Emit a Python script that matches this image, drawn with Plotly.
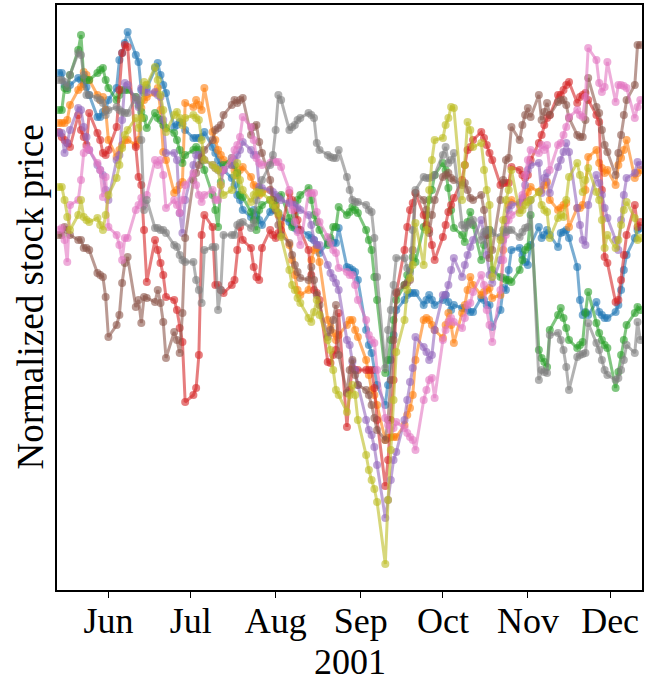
import pandas as pd
import plotly.graph_objects as go

# Trading days (weekdays) covered by the chart
dates = pd.bdate_range("2001-05-14", "2001-12-12")

# Normalized closing prices, one list per stock (weekly blocks of 5 values)
blue = [527, 527, 515, 512, 515, 522, 520, 516, 513, 505, 483, 483, 488, 490, 500,
        512, 540, 547, 557, 568, 545, 538, 510, 507, 512, 532, 537, 525, 515, 507,
        473, 475, 478, 477, 470, 462, 462, 462, 463, 468, 453, 447, 440, 435, 430,
        422, 415, 405, 400, 390, 383, 390, 385, 380, 375, 388, 390, 395, 387, 382,
        378, 375, 372, 370, 370, 365, 362, 360, 355, 347, 357, 360, 357, 357, 372,
        333, 332, 330, 328, 320, 270, 255, 247, 230, 215, 195, 215, 240, 265, 290,
        300, 305, 307, 307, 307, 295, 300, 305, 300, 295, 300, 305, 298, 290, 295,
        292, 292, 290, 288, 288, 302, 300, 295, 295, 273, 290, 312, 310, 330, 350,
        352, 345, 338, 335, 355, 373, 362, 365, 370, 365, 353, 367, 368, 370, 362,
        333, 300, 285, 288, 285, 298, 288, 285, 282, 282, 288, 295, 310, 330, 345,
        362, 370, 372]
orange = [477, 477, 477, 480, 495, 510, 513, 528, 525, 520, 505, 500, 503, 490, 460,
          443, 450, 455, 460, 460, 455, 460, 492, 500, 503, 507, 512, 490, 448, 440,
          407, 410, 415, 418, 497, 493, 500, 495, 490, 512, 468, 460, 450, 445, 440,
          435, 430, 425, 430, 433, 423, 415, 413, 405, 408, 410, 400, 395, 385, 375,
          355, 340, 325, 310, 305, 310, 340, 350, 352, 338, 280, 273, 267, 260, 265,
          275, 280, 280, 270, 263, 240, 225, 210, 205, 195, 160, 162, 163, 163, 163,
          175, 185, 192, 205, 240, 280, 282, 280, 275, 270, 262, 275, 287, 275, 257,
          287, 295, 310, 323, 315, 305, 308, 310, 312, 302, 305, 350, 380, 395, 400,
          395, 400, 403, 408, 413, 408, 410, 415, 418, 400, 390, 392, 395, 397, 373,
          392, 392, 395, 410, 443, 450, 437, 432, 427, 430, 415, 435, 442, 450, 460,
          422, 427, 430]
green = [490, 490, 512, 510, 525, 550, 565, 522, 520, 520, 527, 530, 532, 520, 512,
         500, 505, 510, 510, 510, 503, 495, 488, 482, 472, 487, 482, 480, 475, 472,
         467, 460, 450, 437, 445, 450, 453, 450, 440, 430, 405, 390, 373, 418, 435,
         442, 435, 427, 405, 403, 388, 380, 370, 390, 395, 400, 395, 400, 403, 405,
         382, 373, 385, 400, 405, 412, 400, 385, 378, 370, 355, 362, 373, 373, 393,
         385, 388, 393, 390, 387, 370, 360, 350, 323, 300, 227, 240, 260, 280, 300,
         315, 325, 330, 343, 338, 373, 385, 400, 410, 425, 437, 430, 412, 390, 372,
         365, 358, 378, 388, 375, 340, 355, 365, 370, 330, 323, 322, 320, 320, 318,
         330, 340, 350, 353, 385, 250, 242, 238, 233, 270, 285, 292, 282, 272, 260,
         252, 255, 258, 287, 308, 277, 267, 260, 255, 252, 212, 228, 245, 260, 275,
         287, 293, 290]
red = [468, 463, 460, 457, 453, 485, 470, 463, 455, 487, 467, 460, 447, 445, 450,
       473, 510, 547, 555, 553, 453, 423, 415, 370, 318, 360, 350, 337, 325, 303,
       300, 290, 272, 258, 198, 205, 212, 245, 365, 385, 373, 315, 315, 310, 307,
       315, 320, 350, 373, 360, 352, 333, 323, 320, 352, 370, 365, 362, 367, 370,
       407, 400, 390, 380, 370, 350, 325, 310, 307, 300, 238, 237, 245, 250, 287,
       173, 210, 232, 230, 230, 230, 230, 230, 212, 180, 114, 140, 180, 220, 307,
       350, 373, 390, 397, 407, 385, 375, 370, 355, 340, 363, 375, 388, 395, 402,
       420, 435, 450, 453, 460, 468, 462, 455, 447, 440, 415, 417, 417, 417, 433,
       430, 425, 422, 425, 440, 457, 465, 475, 482, 485, 505, 505, 510, 515, 518,
       497, 503, 505, 507, 500, 485, 478, 410, 343, 337, 298, 300, 320, 345, 365,
       395, 373, 378]
purple = [467, 467, 447, 457, 470, 492, 490, 473, 463, 450, 435, 430, 425, 410, 400,
          440, 445, 480, 517, 515, 500, 493, 512, 510, 508, 508, 505, 503, 480, 447,
          447, 440, 387, 367, 400, 435, 445, 445, 442, 440, 435, 432, 430, 428, 430,
          435, 440, 445, 450, 458, 450, 445, 445, 413, 412, 410, 408, 405, 402, 400,
          397, 395, 395, 392, 390, 385, 375, 360, 355, 355, 335, 327, 322, 317, 310,
          260, 255, 238, 230, 215, 180, 170, 165, 153, 135, 82, 100, 120, 140, 148,
          180, 200, 218, 232, 263, 253, 248, 240, 245, 270, 305, 305, 315, 330, 342,
          323, 335, 345, 353, 360, 380, 365, 345, 325, 317, 340, 360, 380, 390, 395,
          397, 402, 415, 430, 435, 437, 407, 422, 427, 407, 433, 440, 448, 457, 448,
          392, 375, 360, 355, 395, 425, 417, 405, 392, 382, 360, 350, 380, 405, 422,
          427, 438, 435]
brown = [365, 365, 373, 370, 365, 360, 360, 352, 352, 350, 327, 325, 323, 303, 263,
         275, 285, 317, 337, 343, 293, 300, 277, 303, 302, 298, 310, 297, 278, 242,
         268, 260, 247, 287, 362, 420, 427, 435, 443, 450, 460, 470, 472, 475, 485,
         495, 500, 497, 500, 502, 465, 473, 475, 458, 447, 420, 400, 390, 375, 365,
         357, 345, 335, 328, 322, 320, 333, 320, 305, 295, 263, 270, 280, 295, 245,
         207, 230, 240, 225, 215, 210, 205, 195, 182, 170, 160, 180, 220, 260, 308,
         315, 317, 320, 350, 407, 400, 390, 367, 385, 400, 423, 425, 427, 422, 420,
         415, 417, 410, 402, 400, 405, 390, 365, 342, 350, 400, 420, 440, 442, 473,
         460, 475, 485, 492, 483, 505, 480, 488, 497, 485, 498, 500, 500, 495, 482,
         465, 463, 463, 480, 522, 493, 487, 470, 455, 448, 425, 447, 465, 485, 500,
         515, 555, 555]
pink = [370, 372, 360, 338, 395, 400, 420, 447, 452, 450, 437, 430, 403, 423, 373,
        365, 355, 340, 362, 362, 390, 395, 402, 395, 405, 440, 435, 440, 425, 392,
        400, 395, 387, 400, 415, 427, 415, 405, 398, 405, 410, 400, 400, 415, 430,
        442, 450, 455, 463, 483, 473, 460, 442, 437, 435, 437, 440, 438, 438, 433,
        410, 390, 378, 368, 355, 407, 407, 407, 388, 378, 363, 357, 350, 347, 332,
        328, 325, 325, 315, 300, 280, 265, 260, 257, 230, 182, 175, 170, 172, 178,
        172, 167, 163, 160, 150, 200, 210, 220, 222, 202, 260, 270, 278, 282, 278,
        272, 282, 295, 297, 308, 325, 315, 290, 275, 258, 310, 340, 365, 380, 385,
        390, 405, 425, 440, 450, 447, 455, 450, 455, 430, 455, 457, 465, 473, 483,
        490, 485, 483, 503, 552, 540, 517, 508, 513, 538, 498, 515, 515, 514, 512,
        482, 493, 500]
gray = [520, 520, 518, 513, 525, 547, 545, 525, 505, 505, 502, 500, 497, 485, 490,
        493, 490, 488, 487, 487, 503, 500, 460, 390, 400, 372, 372, 370, 370, 367,
        355, 353, 345, 340, 338, 338, 320, 310, 297, 350, 353, 353, 290, 310, 365,
        365, 365, 375, 377, 378, 372, 377, 400, 410, 420, 435, 445, 470, 505, 500,
        470, 473, 475, 480, 482, 487, 485, 482, 457, 450, 445, 443, 442, 442, 450,
        423, 410, 400, 398, 398, 395, 390, 388, 362, 323, 232, 270, 290, 315, 342,
        342, 332, 327, 370, 410, 423, 422, 422, 423, 425, 445, 453, 437, 440, 447,
        375, 372, 375, 377, 380, 360, 368, 370, 370, 367, 363, 370, 368, 370, 370,
        363, 368, 372, 373, 400, 220, 230, 228, 227, 265, 267, 260, 250, 233, 210,
        243, 245, 246, 247, 277, 257, 250, 240, 230, 225, 220, 222, 230, 240, 255,
        247, 278, 260]
olive = [413, 413, 400, 383, 370, 385, 400, 383, 380, 378, 382, 375, 370, 385, 405,
         422, 435, 452, 465, 470, 482, 472, 482, 518, 515, 533, 520, 505, 490, 468,
         485, 488, 482, 475, 482, 485, 482, 480, 460, 440, 435, 432, 430, 415, 405,
         410, 425, 437, 420, 410, 398, 405, 408, 407, 407, 400, 395, 392, 387, 363,
         330, 315, 310, 302, 297, 282, 278, 288, 300, 285, 260, 250, 230, 210, 205,
         188, 205, 215, 205, 180, 145, 130, 120, 111, 98, 36, 100, 150, 200, 248,
         280, 310, 322, 335, 377, 335, 370, 410, 440, 460, 462, 475, 482, 493, 492,
         400, 435, 478, 470, 453, 457, 430, 410, 395, 323, 360, 380, 400, 410, 430,
         387, 390, 395, 398, 400, 408, 395, 390, 388, 362, 382, 385, 383, 400, 423,
         437, 425, 408, 420, 432, 408, 400, 380, 352, 365, 352, 360, 375, 390, 398,
         382, 360, 362]

# tab10 palette, drawn in this order
series = [
    ("Stock 1", (31, 119, 180), blue),
    ("Stock 2", (255, 127, 14), orange),
    ("Stock 3", (44, 160, 44), green),
    ("Stock 4", (214, 39, 40), red),
    ("Stock 5", (148, 103, 189), purple),
    ("Stock 6", (140, 86, 75), brown),
    ("Stock 7", (227, 119, 194), pink),
    ("Stock 8", (127, 127, 127), gray),
    ("Stock 9", (188, 189, 34), olive),
]

month_ticks = pd.date_range("2001-06-01", "2001-12-01", freq="MS")
month_labels = [d.strftime("%b") for d in month_ticks]

ALPHA = 0.6
FONT = "Liberation Serif"

fig = go.Figure()
for name, (r, g, b), values in series:
    rgba = f"rgba({r},{g},{b},{ALPHA})"
    fig.add_trace(go.Scatter(
        x=dates, y=values, name=name, mode="lines+markers",
        line=dict(color=rgba, width=3),
        marker=dict(color=rgba, size=8, line=dict(width=0)),
        showlegend=False,
    ))

fig.update_layout(
    width=645, height=682,
    margin=dict(l=57, r=1, t=5, b=92),
    paper_bgcolor="white", plot_bgcolor="white",
    font=dict(family=FONT, size=35, color="black"),
    xaxis=dict(
        type="date",
        range=["2001-05-13 06:00", "2001-12-12 15:00"],
        tickvals=month_ticks, ticktext=month_labels,
        ticks="outside", ticklen=6, tickwidth=1.3, tickcolor="black",
        ticklabelstandoff=-8,
        showline=True, linecolor="black", linewidth=1.6, mirror=True,
        showgrid=False, zeroline=False,
        tickfont=dict(family=FONT, size=36),
    ),
    yaxis=dict(
        range=[10, 595],
        showticklabels=False, ticks="",
        showline=True, linecolor="black", linewidth=1.6, mirror=True,
        showgrid=False, zeroline=False,
    ),
    annotations=[
        dict(text="Normalized stock price", textangle=-90,
             xref="paper", yref="paper", x=0, y=0.5, xshift=-27,
             xanchor="center", yanchor="middle", showarrow=False,
             font=dict(family=FONT, size=37)),
        dict(text="2001", xref="paper", yref="paper", x=0.5, y=0,
             yshift=-72, xanchor="center", yanchor="middle", showarrow=False,
             font=dict(family=FONT, size=36)),
    ],
)

fig.write_html("out.html")
